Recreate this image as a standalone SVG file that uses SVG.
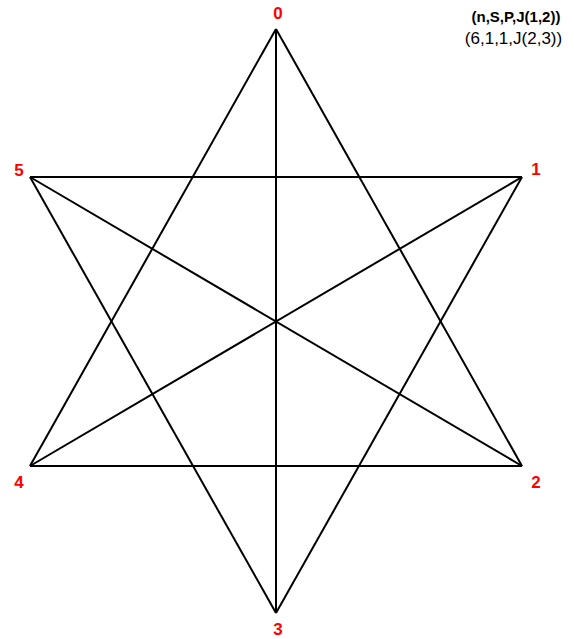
<svg xmlns="http://www.w3.org/2000/svg" width="574" height="639" viewBox="0 0 574 639">
<style>
.e{stroke:#000;stroke-width:2;fill:none}
.lbl{font-family:"Liberation Sans",Arial,sans-serif;font-weight:bold;font-size:17px;fill:#ff0000;text-anchor:middle}
.t{font-family:"Liberation Sans",Arial,sans-serif;fill:#000;text-anchor:middle}
</style>
<rect width="574" height="639" fill="#fff"/>
<g id="connectors">
<line class="e" x1="276" y1="29" x2="522" y2="466"/>
<line class="e" x1="276" y1="29" x2="30" y2="466"/>
<line class="e" x1="30" y1="466" x2="522" y2="466"/>
<line class="e" x1="522" y1="177" x2="276" y2="613"/>
<line class="e" x1="276" y1="613" x2="30" y2="177"/>
<line class="e" x1="30" y1="177" x2="522" y2="177"/>
<line class="e" x1="276" y1="29" x2="276" y2="613"/>
<line class="e" x1="522" y1="177" x2="30" y2="466"/>
<line class="e" x1="522" y1="466" x2="30" y2="177"/>
</g>
<g id="node0"><text class="lbl" x="278" y="19">0</text></g>
<g id="node1"><text class="lbl" x="536" y="175">1</text></g>
<g id="node2"><text class="lbl" x="536" y="488">2</text></g>
<g id="node3"><text class="lbl" x="278" y="635">3</text></g>
<g id="node4"><text class="lbl" x="19" y="488">4</text></g>
<g id="node5"><text class="lbl" x="19" y="176">5</text></g>
<g id="legend">
<text class="t" x="516" y="22" font-size="15" font-weight="bold">(n,S,P,J(1,2))</text>
<text class="t" x="513.5" y="44" font-size="17">(6,1,1,J(2,3))</text>
</g>
</svg>
